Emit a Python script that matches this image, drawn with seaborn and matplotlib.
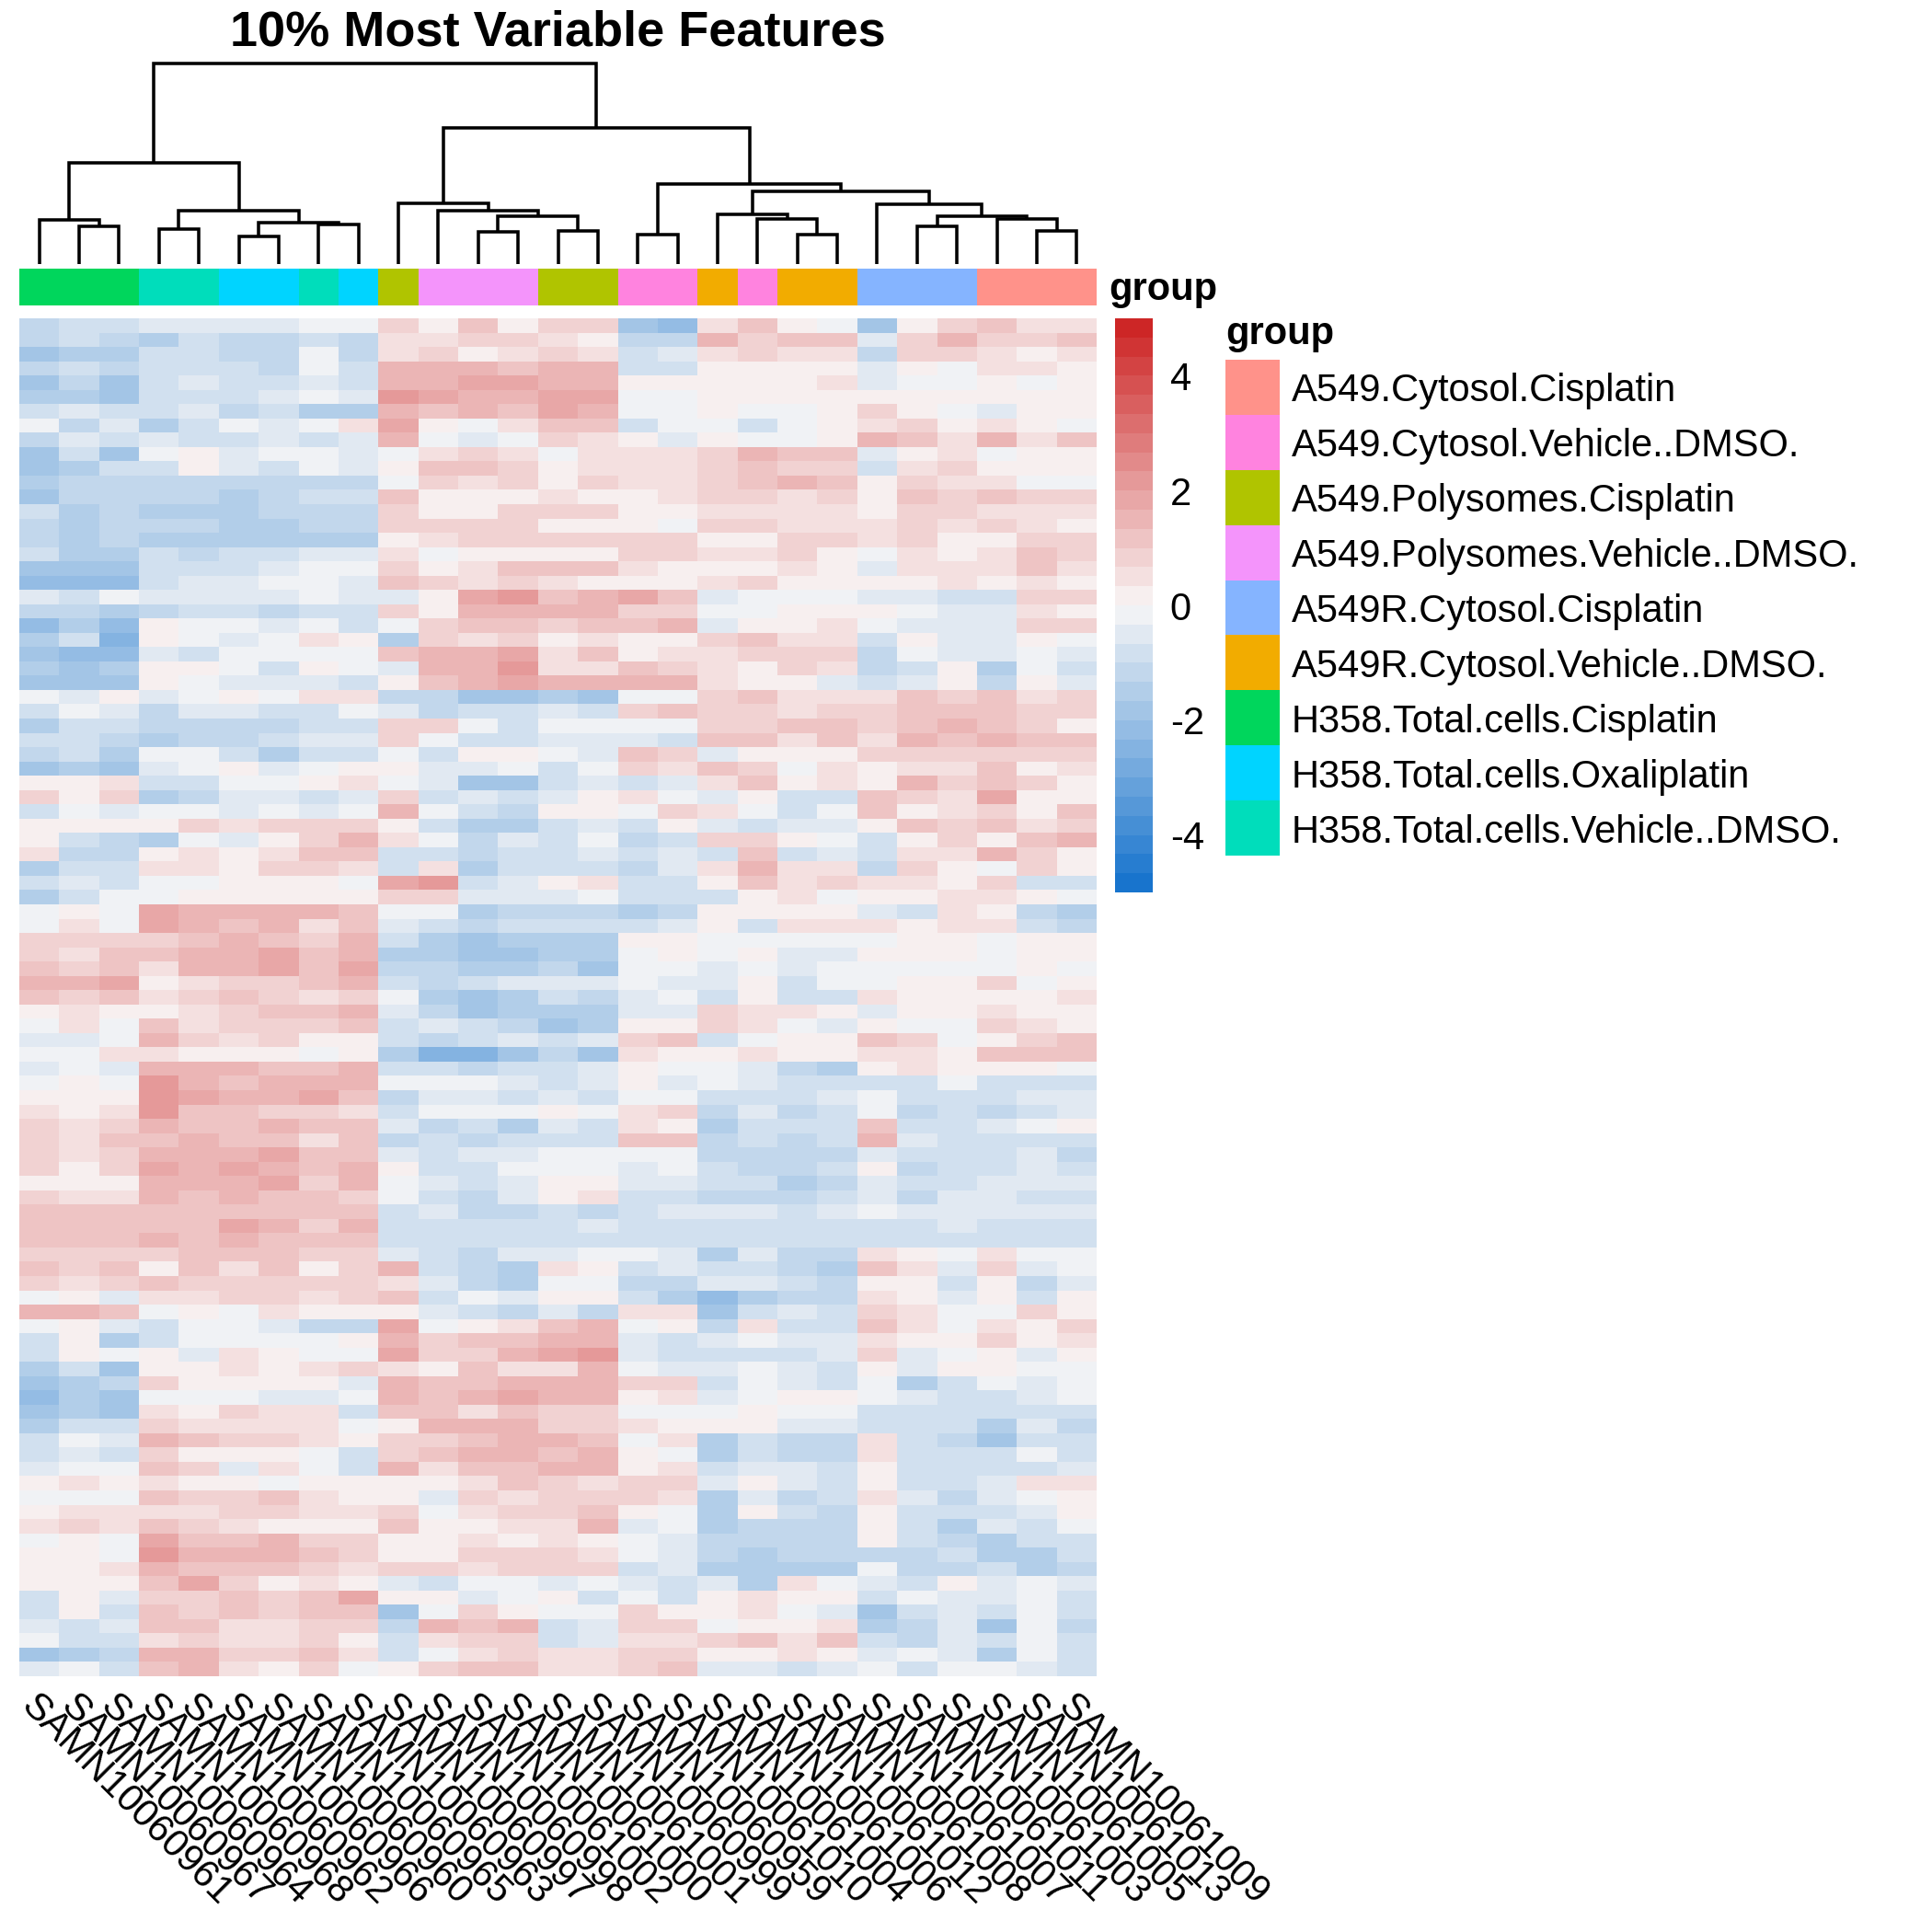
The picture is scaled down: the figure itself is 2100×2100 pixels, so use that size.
import numpy as np
import pandas as pd
import matplotlib
matplotlib.use('Agg')
import matplotlib.pyplot as plt
import seaborn as sns
from matplotlib.colors import ListedColormap, LinearSegmentedColormap

# sample order as in the picture, and the group of each sample
samples = ['SAMN10060961', 'SAMN10060967', 'SAMN10060964', 'SAMN10060968', 'SAMN10060962', 'SAMN10060966',
           'SAMN10060960', 'SAMN10060965', 'SAMN10060963', 'SAMN10060997', 'SAMN10060998', 'SAMN10061002',
           'SAMN10061000', 'SAMN10061001', 'SAMN10060999', 'SAMN10060959', 'SAMN10061010', 'SAMN10061004',
           'SAMN10061006', 'SAMN10061012', 'SAMN10061008', 'SAMN10061007', 'SAMN10061011', 'SAMN10061003',
           'SAMN10061005', 'SAMN10061013', 'SAMN10061009']
groups = ['A549.Cytosol.Cisplatin', 'A549.Cytosol.Vehicle..DMSO.', 'A549.Polysomes.Cisplatin',
          'A549.Polysomes.Vehicle..DMSO.', 'A549R.Cytosol.Cisplatin', 'A549R.Cytosol.Vehicle..DMSO.',
          'H358.Total.cells.Cisplatin', 'H358.Total.cells.Oxaliplatin', 'H358.Total.cells.Vehicle..DMSO.']
group_colors = ['#FF928A', '#FF83DF', '#B0C400', '#F494FB', '#85B4FF', '#F2AC00', '#00D65C', '#00D4FF', '#00DDBB']
sample_group = [6, 6, 6, 8, 8, 7, 7, 8, 7, 2, 3, 3, 3, 2, 2, 1, 1, 5, 1, 5, 5, 4, 4, 4, 0, 0, 0]

# dendrogram merges: child, child, height (leaves are 0-26, new nodes count up from 27)
merges = [(1, 2, 41), (0, 27, 48), (3, 4, 38), (5, 6, 30), (7, 8, 43), (30, 31, 45), (29, 32, 58), (28, 33, 110),
          (11, 12, 35), (13, 14, 36), (35, 36, 52), (10, 37, 58), (9, 38, 66), (15, 16, 32), (19, 20, 32),
          (18, 41, 49), (17, 42, 54), (22, 23, 41), (25, 26, 36), (24, 45, 49), (44, 46, 52), (21, 47, 65),
          (43, 48, 79), (40, 49, 87), (39, 50, 148), (34, 51, 218)]

# heatmap values, in tenths, top to bottom
rows_top = [
    [-12,-10,-7,-6,-6,-5,-6,-2,-2,8,3,10,3,7,8,-20,-22,6,10,0,-2,-18,2,9,10,4,5],
    [-13,-9,-12,-14,-10,-12,-12,-10,-12,6,6,7,7,5,3,-12,-12,14,8,10,12,-6,7,14,8,7,11],
    [-18,-14,-16,-8,-9,-11,-12,-2,-13,4,8,3,5,9,4,-10,-5,5,7,6,4,-13,9,9,4,2,5],
    [-13,-10,-12,-8,-8,-10,-13,-2,-9,16,15,15,13,14,14,-7,-8,2,3,0,3,-5,3,-2,5,4,2],
    [-19,-11,-18,-7,-6,-8,-9,-4,-9,16,14,18,17,14,15,0,0,3,3,3,4,-6,-1,-1,1,-1,0],
    [-14,-14,-17,-8,-7,-9,-6,-3,-6,20,17,16,16,17,17,-3,-2,3,2,0,2,2,1,1,1,1,2],
    [-9,-4,-7,-10,-4,-12,-8,-15,-14,15,12,14,11,17,15,-1,-3,3,-1,-3,0,8,3,-2,-4,0,3],
    [-1,-12,-5,-16,-9,-2,-4,-2,5,18,3,-3,5,10,10,-7,-3,-3,-8,-1,3,5,8,2,4,2,-1],
    [-12,-4,-8,-5,-8,-9,-6,-9,-6,16,-2,-4,-3,8,6,3,-5,3,-1,-2,1,14,12,6,14,4,11],
    [-19,-9,-17,-3,0,-5,-3,-1,-5,-1,6,7,6,-1,4,4,6,9,14,10,13,-4,3,4,-1,2,2],
    [-18,-14,-9,-9,2,-6,-7,-2,-5,1,13,13,9,3,5,6,5,8,11,8,9,-8,4,7,2,1,0],
    [-14,-11,-13,-12,-13,-13,-13,-12,-13,-1,7,6,8,1,8,5,5,7,11,14,11,2,7,5,4,-2,-1],
    [-18,-13,-12,-13,-12,-15,-12,-9,-8,10,1,2,3,5,3,2,5,8,8,6,7,2,11,7,12,7,8],
    [-9,-16,-11,-15,-14,-16,-13,-13,-13,8,3,3,8,7,7,1,1,6,4,6,6,3,7,7,4,6,4],
    [-12,-14,-11,-13,-13,-14,-14,-13,-13,7,8,9,8,3,3,0,-1,9,8,4,5,4,8,5,8,4,3],
    [-13,-14,-13,-14,-14,-15,-14,-14,-15,2,6,8,8,8,8,8,8,3,1,7,7,4,7,1,3,8,9],
    [-9,-14,-16,-9,-11,-10,-8,-6,-5,4,-1,3,3,2,2,9,8,5,6,7,1,-2,5,2,6,11,8],
    [-19,-17,-20,-10,-7,-7,-4,-1,-3,7,2,5,11,11,10,4,2,3,2,4,3,-5,6,5,4,11,4],
    [-21,-22,-22,-8,-5,-6,-3,-3,-5,10,9,4,7,5,3,1,1,4,9,3,3,0,3,4,3,5,3],
    [-4,-8,-3,-4,-6,-4,-5,-3,-5,-5,0,18,20,12,15,18,10,-6,-2,-1,-2,-4,-6,-8,-9,7,8],
    [-12,-11,-14,-13,-9,-10,-12,-8,-8,8,1,16,15,15,14,8,9,-1,-2,2,1,2,-3,-5,-6,5,3],
    [-21,-14,-22,1,-1,-2,-6,-1,-7,-2,8,12,12,9,11,10,14,-5,2,2,4,-3,-6,-6,-5,7,7],
    [-15,-9,-26,2,-3,-4,-2,4,1,-16,7,6,8,3,6,1,1,7,10,5,5,-10,3,-4,-6,2,-1],
    [-20,-22,-21,-6,-9,-2,-3,-3,-2,12,14,15,18,6,13,0,4,6,8,7,8,-12,-1,-6,-5,-2,-5],
]
rows_upper = [
    [-14,-18,-14,3,0,-2,-9,2,-1,-6,16,16,20,4,5,10,8,6,1,8,4,-11,-8,0,-14,-1,-7],
    [-18,-20,-19,2,-1,-5,-5,-4,-10,3,11,16,17,14,15,14,14,5,2,3,-4,-9,-5,3,-11,2,-4],
    [-1,-4,2,-6,-1,0,-2,4,4,-12,-13,-18,-20,-15,-19,-3,-1,9,10,6,6,5,10,9,12,4,8],
    [-8,-2,-4,-12,-5,-6,-7,-8,-2,-6,-11,-9,-10,-5,-9,7,10,9,9,5,7,9,13,12,10,8,7],
    [-14,-9,-9,-11,-11,-13,-13,-7,-9,7,8,-2,-8,-3,-3,-1,-3,8,9,12,13,8,11,14,11,8,1],
    [-10,-9,-12,-15,-12,-12,-7,-5,-6,9,-2,-9,-10,-5,-6,-4,-7,10,13,6,11,6,14,13,14,11,13],
    [-12,-10,-16,-1,-1,-9,-15,-7,-9,-3,-9,2,3,-1,-4,12,7,-5,1,3,2,8,9,9,7,7,8],
    [-18,-15,-18,-4,-3,3,-6,-1,1,3,-4,-4,-3,-7,-3,9,6,10,7,-1,4,1,5,6,10,3,4],
    [1,1,4,-8,-9,-2,-1,2,4,-3,-6,-17,-17,-9,-5,-8,-5,6,10,2,5,0,14,8,12,8,2],
    [8,2,8,-14,-12,-5,-4,-8,-4,9,-8,-6,-9,-5,3,5,-3,-6,0,-7,-9,10,8,6,18,1,2],
    [-10,-2,-6,-3,-3,-4,-1,-5,-2,14,-1,-8,-13,2,3,-3,9,5,-1,-8,-1,11,3,4,8,3,12],
    [0,3,3,3,8,4,9,7,9,2,-8,-14,-16,-7,-5,-9,1,-5,-9,-5,-4,3,10,8,12,4,8],
    [3,-9,-12,-14,-3,-6,1,8,14,5,-3,-12,-5,-9,-3,-12,-9,8,9,1,-1,-9,3,7,3,12,14],
    [6,-12,-12,2,5,2,4,10,12,-10,-8,-12,-8,-9,-6,-10,-6,-9,10,-8,-4,-8,4,6,14,7,3],
    [-15,-7,-10,4,4,3,7,9,4,-8,4,-15,-8,-8,-9,-11,-4,6,14,5,6,-11,7,3,-1,7,0],
    [-8,-6,-8,-3,-1,3,1,3,-3,18,20,-7,-6,3,4,-7,-8,2,12,6,8,5,6,3,8,-9,-9],
    [-14,-10,-3,-1,1,3,1,1,3,7,8,-5,-5,-6,-2,-9,-7,-8,1,4,-1,3,2,5,6,1,-3],
    [-3,1,-3,17,14,14,15,14,12,-2,-2,-14,-13,-11,-12,-15,-12,1,3,0,3,-6,-7,5,3,-12,-14],
    [-2,6,-2,17,14,12,14,6,11,-6,-7,-12,-9,-8,-9,-9,-4,0,-7,5,6,6,3,4,4,-7,-11],
    [8,8,8,8,12,14,13,9,16,-10,-16,-18,-15,-15,-14,1,2,-2,-1,-3,-2,-3,1,0,-1,1,1],
    [9,4,10,11,15,16,17,11,14,-14,-14,-20,-20,-16,-14,-1,0,-1,2,-4,-5,2,3,1,-2,0,0],
    [10,8,10,5,15,16,18,13,19,-13,-12,-15,-15,-12,-18,-2,-2,-5,-1,-6,-3,-2,-2,-3,-2,1,-2],
    [15,16,18,1,6,7,9,11,14,-7,-12,-7,-4,-6,-5,-1,-4,-6,2,-8,-1,-1,2,0,7,-2,1],
    [10,8,12,4,9,11,7,4,8,-2,-16,-20,-16,-10,-11,-4,-1,-9,3,-8,-9,6,0,1,0,0,4],
]
rows_lower = [
    [2,6,1,0,6,8,12,12,14,-5,-12,-19,-15,-15,-16,-5,-6,7,4,4,3,-4,1,3,5,2,1],
    [-2,4,-1,10,6,9,7,9,10,-9,-4,-10,-12,-17,-16,2,0,7,5,-2,-6,3,-2,-1,7,5,0],
    [-5,-6,-3,14,7,5,7,2,3,-10,-13,-9,-6,-8,-4,8,12,-10,-3,0,0,12,9,-1,1,8,10],
    [-3,-1,4,5,3,3,1,-1,1,-14,-24,-26,-20,-12,-18,6,2,1,4,3,1,6,6,1,13,12,10],
    [-5,-1,-4,15,16,14,12,12,14,-9,-10,-13,-10,-8,-5,3,-1,-2,-6,-12,-14,1,4,1,1,2,-1],
    [-2,0,-3,20,16,13,14,15,14,-3,-1,-2,-6,-7,-5,0,-5,-3,-4,-7,-8,-8,-7,-1,-8,-7,-9],
    [2,3,3,22,19,15,15,19,12,-11,-5,-6,-9,-5,-9,-1,-3,-8,-9,-9,-6,-3,-10,-10,-8,-5,-5],
    [5,3,5,20,13,13,9,9,5,-10,-3,-1,-3,1,-1,4,9,-12,-6,-11,-9,-2,-12,-9,-11,-9,-4],
    [7,6,9,14,13,12,15,10,13,-4,-12,-9,-14,-4,-8,6,0,-14,-10,-10,-7,10,-10,-8,-4,-3,0],
    [8,6,10,11,14,13,13,6,10,-12,-8,-11,-10,-9,-7,11,11,-11,-10,-11,-9,16,-5,-9,-8,-7,-9],
    [9,5,8,16,14,15,17,13,11,-4,-7,-4,-4,-2,-1,-3,-1,-11,-12,-12,-12,-4,-9,-10,-7,-5,-12],
    [7,2,9,17,14,18,15,13,16,0,-10,-7,-1,-1,-1,-6,-2,-9,-13,-12,-8,2,-12,-8,-10,-6,-7],
    [1,3,2,15,16,15,17,7,15,-3,-5,-9,-6,1,3,-5,-6,-10,-8,-15,-12,-4,-9,-7,-6,-6,-6],
    [8,5,5,14,11,14,11,10,9,-3,-7,-11,-6,3,6,-7,-9,-13,-12,-13,-9,-4,-13,-6,-5,-9,-9],
    [13,11,11,13,10,12,11,10,12,-9,-6,-12,-13,-9,-12,-7,-5,-4,-6,-8,-4,-2,-4,-5,-6,-6,-6],
    [12,13,12,13,12,17,14,7,16,-8,-8,-7,-8,-8,-5,-7,-8,-7,-9,-9,-8,-9,-8,-6,-7,-7,-7],
    [11,11,13,15,13,15,13,11,13,-9,-9,-9,-9,-9,-9,-8,-9,-9,-9,-9,-9,-7,-9,-9,-9,-9,-9],
    [8,7,8,8,11,10,12,9,9,-5,-7,-12,-6,-5,-3,-1,-4,-16,-6,-11,-13,5,1,-2,4,-1,-3],
    [10,9,12,2,10,6,12,1,7,14,-8,-12,-14,4,3,-9,-5,-8,-7,-11,-16,10,5,-5,8,-6,-3],
    [9,5,7,10,9,9,8,7,9,6,-5,-11,-14,-2,-2,-12,-13,-6,-4,-10,-12,3,1,-9,3,-12,-5],
    [-1,3,-5,4,4,8,7,4,7,11,-10,-3,-6,2,3,-8,-14,-22,-14,-13,-12,4,3,-6,0,-8,1],
    [14,14,13,-1,3,-2,4,2,3,3,-5,-9,-11,-4,-11,6,5,-18,-7,-5,-8,8,4,-1,-1,7,2],
    [-3,2,-5,-9,-1,-1,-6,-11,-13,18,-2,3,4,11,15,-3,3,-12,4,-7,-7,13,4,-2,4,2,8],
    [-9,1,-16,-8,-1,-2,-1,-1,2,16,8,11,12,15,16,-6,-9,-6,-1,-6,-4,5,2,1,8,3,6],
]
rows_bottom = [
    [-7,3,-3,3,-5,5,3,-1,-1,18,7,9,14,17,20,-5,-8,-8,-8,-7,-5,7,-4,-1,1,-4,2],
    [-14,-10,-20,2,1,5,3,4,8,4,3,13,6,6,16,-2,-4,-6,-1,-5,-7,1,-5,1,3,-3,-3],
    [-20,-16,-12,8,3,2,1,2,-5,14,13,13,15,15,14,7,7,-9,-2,-6,-10,-3,-14,-9,-3,-4,-2],
    [-22,-16,-18,-2,-2,-3,-5,-5,-1,16,12,14,19,14,16,2,6,-5,-2,1,1,-3,-5,-8,-7,-4,-3],
    [-18,-14,-18,6,3,9,4,6,-7,10,12,4,12,7,8,-2,-1,-3,3,-3,-3,-9,-10,-8,-8,-7,-8],
    [-14,-8,-10,9,5,4,4,4,-2,2,14,14,14,8,9,4,3,1,1,-4,-5,-9,-8,-9,-14,-5,-11],
    [-8,-3,-6,14,10,9,8,5,1,9,9,10,16,14,13,-1,4,-14,-9,-12,-12,4,-7,-13,-19,-8,-10],
    [-10,-5,-8,8,2,0,3,-3,-8,9,10,14,14,12,14,2,-2,-14,-9,-12,-12,4,-7,-8,-9,-3,-10],
    [-5,-2,-3,12,8,-4,6,-1,-9,16,5,12,10,15,14,2,4,-8,-4,-6,-9,3,-9,-8,-7,-7,-6],
    [3,5,3,4,1,3,-1,1,3,0,1,5,12,9,5,8,9,-6,3,-5,-9,3,-8,-7,-6,4,5],
    [-2,-3,-1,12,8,9,10,4,2,2,-5,8,6,9,9,9,6,-15,-4,-12,-10,6,-6,-12,-4,-1,2],
    [2,5,5,6,5,7,9,5,5,9,-1,6,8,7,10,1,-2,-14,1,-9,-12,0,-9,-10,-7,-5,2],
    [6,8,5,10,7,5,1,3,2,11,1,1,5,6,15,-5,-3,-15,-11,-12,-13,3,-10,-15,-6,-9,-3],
    [-1,2,-2,17,13,13,14,9,7,1,3,6,3,6,3,-2,-4,-12,-12,-13,-11,2,-10,-13,-16,-7,-9],
    [0,1,-2,20,14,16,15,10,9,0,2,8,7,7,5,-1,-5,-12,-14,-12,-13,-11,-13,-9,-15,-14,-9],
    [3,3,4,14,11,11,10,7,5,8,7,6,7,8,8,-8,-6,-15,-16,-14,-14,-3,-12,-12,-10,-14,-11],
    [1,2,3,13,17,8,3,5,3,-5,-9,-2,-3,-4,-2,-6,-8,-4,-14,5,-3,-6,-9,1,-5,-3,-5],
    [-7,2,-6,8,9,11,9,12,18,1,2,-5,-3,1,-8,-3,-8,1,4,3,1,-8,-2,-5,-5,-3,-10],
    [-10,3,-7,13,8,10,8,12,12,-18,-3,8,3,-2,-2,7,3,0,4,-2,-6,-18,-9,-6,-7,-2,-7],
    [-5,-10,-4,13,12,5,4,8,9,-13,14,11,16,-9,-5,8,8,-3,3,0,4,-14,-12,-5,-19,-1,-12],
    [-1,-10,-8,6,8,6,5,7,3,-10,6,8,7,-7,-4,5,6,9,10,5,10,-9,-13,-6,-8,-2,-8],
    [-18,-15,-13,15,15,9,8,12,5,-7,-1,6,7,5,4,7,7,3,3,4,3,-4,-3,-5,-16,-3,-8],
    [-6,-3,-7,12,14,5,1,7,-1,2,9,10,10,6,5,8,11,-5,-5,-8,-5,-3,-10,-3,-2,-4,-8],
]
colorbar_ticks = [-4, -2, 0, 2, 4]

sns.set_theme(style='white')
plt.rcParams['font.family'] = ['Liberation Sans', 'DejaVu Sans']
plt.rcParams['text.color'] = 'black'
plt.rcParams['xtick.color'] = 'black'
plt.rcParams['ytick.color'] = 'black'

SIZE = 2100
fig = plt.figure(figsize=(7, 7), dpi=300)

def panel(left, top, right, bottom):
    # pixel box to a figure axes
    return fig.add_axes([left / SIZE, 1 - bottom / SIZE, (right - left) / SIZE, (bottom - top) / SIZE])

heat_colors = LinearSegmentedColormap.from_list('bwr30', ['#1874CD', '#F8F6F6', '#CD2626'], N=30)
heat_colors = ListedColormap([heat_colors(i) for i in range(30)])
group_cmap = ListedColormap(group_colors)

values = np.array(rows_top + rows_upper + rows_lower + rows_bottom) / 10
df = pd.DataFrame(values, columns=samples)

ax = panel(21, 346, 1192, 1822)
cax = panel(1212, 346, 1253, 970)
sns.heatmap(df, ax=ax, cmap=heat_colors, vmin=-5, vmax=5, cbar_ax=cax, yticklabels=False, xticklabels=True,
            cbar_kws={'ticks': colorbar_ticks})
ax.set_xticklabels(samples, rotation=-45, ha='left', va='top', rotation_mode='anchor', fontsize=10)
ax.tick_params(axis='x', length=0, pad=3)
ax.tick_params(axis='y', length=0)

cbar = ax.collections[0].colorbar
cbar.outline.set_visible(False)
cbar.set_ticklabels([str(t) for t in colorbar_ticks])
cbar.ax.tick_params(length=0, labelsize=10, pad=4.5)

# group strip above the heatmap
strip = panel(21, 292, 1192, 332)
sns.heatmap(np.array([sample_group]), ax=strip, cmap=group_cmap, vmin=-0.5, vmax=8.5, cbar=False,
            xticklabels=False, yticklabels=False)
fig.text(1205 / SIZE, 1 - 315 / SIZE, 'group', fontsize=10, fontweight='bold', ha='left', va='center')

# dendrogram, drawn from the merge heights
dendro = panel(21, 69, 1192, 287)
node_x = list(np.arange(len(samples)) + 0.5)
node_h = [0] * len(samples)
for a, b, h in merges:
    dendro.plot([node_x[a], node_x[a], node_x[b], node_x[b]], [node_h[a], h, h, node_h[b]],
                color='black', lw=0.85, clip_on=False, solid_joinstyle='miter', solid_capstyle='butt')
    node_x.append((node_x[a] + node_x[b]) / 2)
    node_h.append(h)
dendro.set_xlim(0, len(samples))
dendro.set_ylim(0, merges[-1][2])
dendro.axis('off')

fig.text(606 / SIZE, 1 - 35 / SIZE, '10% Most Variable Features', fontsize=13, fontweight='bold', ha='center', va='center')

# legend for the groups
leg = panel(1332, 391, 1391, 930)
sns.heatmap(np.arange(len(groups)).reshape(-1, 1), ax=leg, cmap=group_cmap, vmin=-0.5, vmax=8.5, cbar=False,
            xticklabels=False, yticklabels=groups)
leg.yaxis.tick_right()
leg.set_yticklabels(groups, rotation=0, fontsize=10)
leg.tick_params(axis='y', length=0, pad=3)
fig.text(1332 / SIZE, 1 - 363 / SIZE, 'group', fontsize=10, fontweight='bold', ha='left', va='center')

plt.savefig('out.png', dpi=300)
